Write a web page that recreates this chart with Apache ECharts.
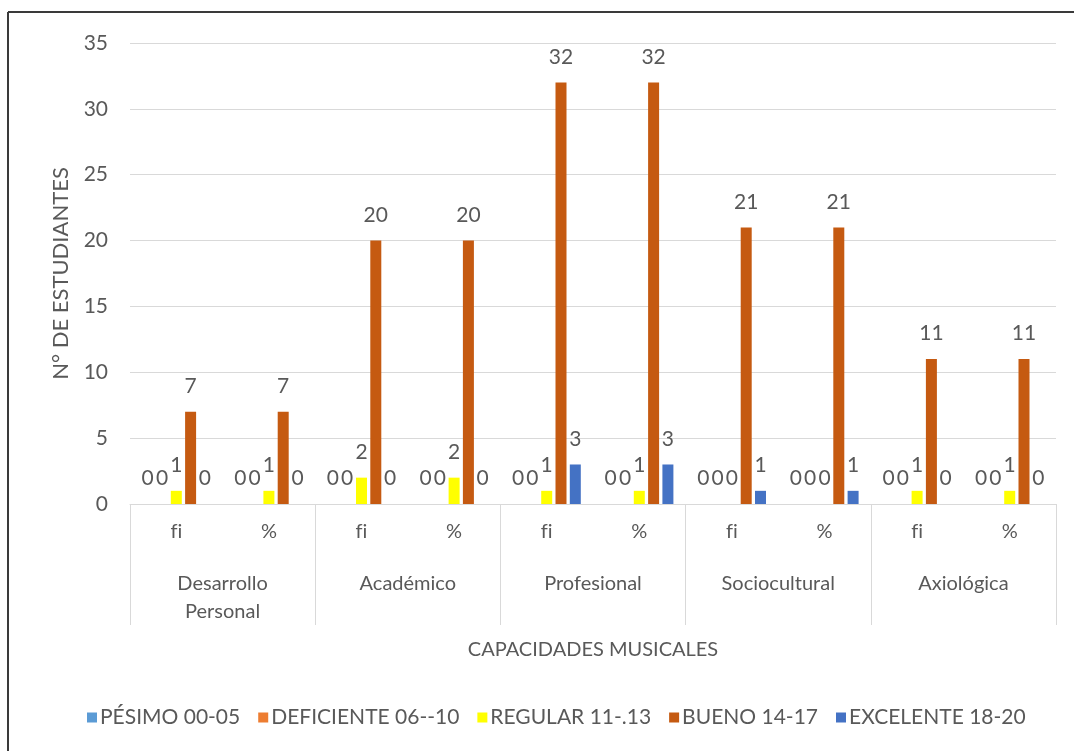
<!DOCTYPE html>
<html><head><meta charset="utf-8">
<script src="https://cdn.jsdelivr.net/npm/echarts@6/dist/echarts.min.js"></script>
<style>html,body{margin:0;padding:0;background:#fff}#c{width:1074px;height:751px}</style>
</head><body><div id="c"></div>
<script>
var subCategories = ['fi','%','fi','%','fi','%','fi','%','fi','%'];
var groups = ['Desarrollo\nPersonal','Académico','Profesional','Sociocultural','Axiológica'];
var seriesNames = ['PÉSIMO 00-05','DEFICIENTE 06--10','REGULAR 11-.13','BUENO 14-17','EXCELENTE 18-20'];
var pesimo     = [0,0,0,0,0,0,0,0,0,0];
var deficiente = [0,0,0,0,0,0,0,0,0,0];
var regular    = [1,1,2,2,1,1,0,0,1,1];
var bueno      = [7,7,20,20,32,32,21,21,11,11];
var excelente  = [0,0,0,0,3,3,1,1,0,0];
var yTicks = [0,5,10,15,20,25,30,35];
var colors = ['#5B9BD5','#ED7D31','#FFFF00','#C55A11','#4472C4'];
var FONT = 'Lato';
var TXT = '#595959';
var values = [pesimo, deficiente, regular, bueno, excelente];

var chart = echarts.init(document.getElementById('c'));
var series = seriesNames.map(function(n,i){
  return {
    name:n, type:'bar', data:values[i], barWidth:11, barGap:'30%', barCategoryGap:'25%',
    itemStyle:{color:colors[i]},
    label:{show:true, position:'top', distance:15, color:TXT, fontFamily:FONT, fontSize:21}
  };
});
chart.setOption({
  animation:false,
  textStyle:{fontFamily:FONT},
  grid:{left:130, right:18, top:43, bottom:247, containLabel:false},
  legend:{
    bottom:18, left:82, itemWidth:10, itemHeight:10, itemGap:18,
    icon:'rect',
    textStyle:{color:TXT, fontFamily:FONT, fontSize:21, padding:[0,0,0,-2]},
    data:seriesNames
  },
  xAxis:[{
    type:'category', data:subCategories, position:'bottom',
    axisLine:{lineStyle:{color:'#d9d9d9', width:1}},
    axisTick:{show:false},
    axisLabel:{color:TXT, fontFamily:FONT, fontSize:20, margin:18,
      formatter:function(v){ return v.split('').map(function(ch){return '{t|'+ch+'}';}).join(''); },
      rich:{t:{color:TXT, fontFamily:FONT, fontSize:20}}}
  },{
    type:'category', data:groups, position:'bottom',
    axisLine:{show:false},
    axisTick:{show:true, length:121, lineStyle:{color:'#d9d9d9'}},
    axisLabel:{color:TXT, fontFamily:FONT, fontSize:20, margin:66, lineHeight:28},
    name:'CAPACIDADES MUSICALES', nameLocation:'middle', nameGap:136,
    nameTextStyle:{color:TXT, fontFamily:FONT, fontSize:20}
  }],
  yAxis:{
    type:'value', min:yTicks[0], max:yTicks[yTicks.length-1], interval:5,
    axisLine:{show:false}, axisTick:{show:false},
    splitLine:{lineStyle:{color:'#d9d9d9'}},
    axisLabel:{color:TXT, fontFamily:FONT, fontSize:21, margin:22},
    name:'N° DE ESTUDIANTES', nameLocation:'middle', nameGap:58,
    nameTextStyle:{color:TXT, fontFamily:FONT, fontSize:22}
  },
  graphic:[
    {type:'line', shape:{x1:8, y1:12, x2:1074, y2:12}, style:{stroke:'#3a3a3a', lineWidth:2}},
    {type:'line', shape:{x1:8, y1:12, x2:8, y2:751}, style:{stroke:'#3a3a3a', lineWidth:2}}
  ],
  series:series
});
</script></body></html>
